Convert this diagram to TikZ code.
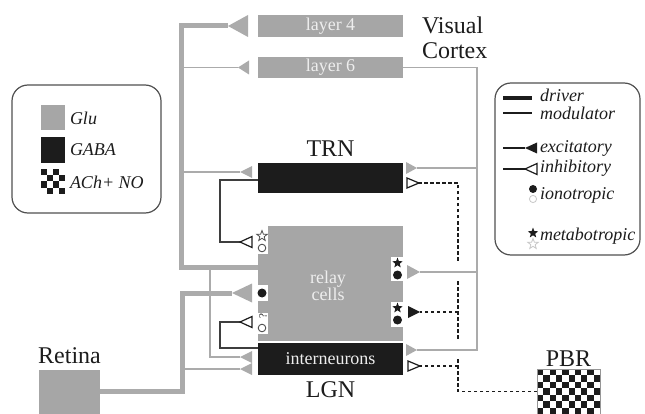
\documentclass[tikz,border=0pt]{standalone}
\usepackage{fontspec}
\setmainfont{Liberation Serif}
\usetikzlibrary{shapes.geometric,calc}
\definecolor{boxgray}{HTML}{A6A6A6}
\definecolor{linegray}{HTML}{ABABAB}
\definecolor{ink}{HTML}{1C1C1C}
\definecolor{paletext}{HTML}{EEEEEE}
\definecolor{framecol}{HTML}{505050}
\definecolor{faint}{HTML}{C8C8C8}
\begin{document}
\begin{tikzpicture}[x=1pt,y=-1pt,
  every node/.style={inner sep=0pt, outer sep=0pt},
  graybox/.style={fill=boxgray, minimum width=145pt, text=paletext, font=\fontsize{18}{18}\selectfont},
  blackbox/.style={fill=ink, minimum width=145pt, text=paletext, font=\fontsize{18}{18}\selectfont},
  title/.style={text=ink, anchor=base, font=\fontsize{24}{22}\selectfont},
  legtext/.style={anchor=west, text=ink, font=\fontsize{18}{18}\selectfont\itshape},
  drv/.style={draw=linegray, line width=5pt},
  mod/.style={draw=linegray, line width=1.4pt},
  inh/.style={draw=ink!85, line width=1.5pt},
  ach/.style={draw=ink, line width=1.4pt, dash pattern=on 3.5pt off 2.5pt},
  legframe/.style={draw=framecol, line width=1.2pt, rounded corners=16pt},
  exc/.style={fill=linegray},
  hollow/.style={draw=ink, fill=white, line width=1.2pt},
  solid/.style={fill=ink},
  pics/syn/.style n args={2}{code={\path[pic actions] (0,0) -- (#1,-#2) -- (#1,#2) -- cycle;}},
  fstar/.style={star, star points=5, star point ratio=2.4, minimum size=11pt, fill=ink},
  ostar/.style={star, star points=5, star point ratio=2.4, minimum size=11pt, draw=framecol, fill=white, line width=0.8pt},
]
\useasboundingbox (0,0) rectangle (645,414);

% ---------- boxes ----------
\node[graybox, minimum height=22pt] (l4) at (330.5,26) {layer 4};
\node[graybox, minimum height=21pt] (l6) at (330.5,67.5) {layer 6};
\node[blackbox, minimum height=30pt] (trn) at (330.5,178) {};
\node[graybox, minimum height=115pt] (relay) at (330.5,283.5) {};
\node[blackbox, minimum height=32pt] (inter) at (330.5,359) {interneurons};
\node[fill=boxgray, minimum width=61pt, minimum height=44pt] (retina) at (69.5,392) {};
\node[minimum width=63pt, minimum height=45pt] (pbr) at (568.5,391.5) {};
\foreach \i in {0,...,9} \foreach \j in {0,...,6} {
  \pgfmathtruncatemacro\parity{mod(\i+\j,2)}
  \ifnum\parity=0
    \fill[ink] ($(pbr.north west)+(6.3*\i,6.45*\j)$) rectangle ++(6.3,6.45);
  \fi
}
\draw[framecol!60, line width=0.6pt] (pbr.south west) rectangle (pbr.north east);

\node[text=paletext, align=center, font=\fontsize{18}{16}\selectfont] (rlab) at (328,286) {relay\\cells};

% ---------- titles ----------
\node[title] (trnlab) at (330.5,157) {TRN};
\node[title] (lgnlab) at (330.5,397) {LGN};
\node[title] (retlab) at (69.5,363) {Retina};
\node[title] (pbrlab) at (568.5,366) {PBR};
\node[title, anchor=base west] (vis) at (422,34) {Visual};
\node[title, anchor=base west] (ctx) at (422,58.5) {Cortex};

% ---------- cholinergic input from PBR ----------
\draw[ach] (pbr.west) -- ++(-79,0) |- ($(trn.east)+(16,5)$);
\draw[ach] ($(relay.north east)+(55,86)$) -- ($(relay.north east)+(17,86)$);
\draw[ach] ($(inter.east)+(55,7)$) -- ($(inter.east)+(17,7)$);
\fill[white] (450,261) rectangle (466,280);
\fill[white] (450,340) rectangle (466,358);
\pic[hollow, xscale=-1] at ($(trn.east)+(16,5)$) {syn={12}{5}};
\pic[solid, xscale=-1] at ($(relay.north east)+(17,86)$) {syn={12}{6}};
\pic[hollow, xscale=-1] at ($(inter.east)+(17,7)$) {syn={12}{5}};

% ---------- layer 6 feedback ----------
\draw[mod] (l6.east) -- ++(74,0) |- ($(inter.east)+(14,-9)$);
\draw[mod] ($(trn.east)+(74,-10)$) -- ($(trn.east)+(14,-10)$);
\draw[mod] ($(relay.north east)+(74,46)$) -- ($(relay.north east)+(17,46)$);
\pic[exc, xscale=-1] at ($(trn.east)+(14,-10)$) {syn={11}{6}};
\pic[exc, xscale=-1] at ($(relay.north east)+(17,46)$) {syn={13}{7}};
\pic[exc, xscale=-1] at ($(inter.east)+(14,-9)$) {syn={11}{6}};

% ---------- relay cell axons ----------
\draw[mod] ($(relay.north west)+(-48,41)$) |- ($(inter.west)+(-18,-2)$);
\draw[mod] ($(l4.west)+(-77,41.5)$) -- ($(l6.west)+(-20,0)$);
\draw[mod] ($(trn.west)+(-77,-6)$) -- ($(trn.west)+(-18,-6)$);
\draw[drv] ($(relay.north west)+(0,41)$) -| ($(l4.west)+(-77,0)$) -- ($(l4.west)+(-30,0)$);
\pic[exc] at ($(l4.west)+(-30,0)$) {syn={20}{11}};
\pic[exc] at ($(l6.west)+(-20,0)$) {syn={11}{7}};
\pic[exc] at ($(trn.west)+(-18,-6)$) {syn={12}{6}};
\pic[exc] at ($(inter.west)+(-18,-2)$) {syn={12}{6}};

% ---------- retinal input ----------
\draw[mod] ($(inter.west)+(-76,10)$) -- ($(inter.west)+(-18,10)$);
\draw[drv] ($(retina.east)+(0,-1)$) -| ($(relay.north west)+(-76,67)$) -- ($(relay.north west)+(-26,67)$);
\pic[exc] at ($(relay.north west)+(-26,67)$) {syn={20}{9.5}};
\pic[exc] at ($(inter.west)+(-18,10)$) {syn={12}{6}};

% ---------- GABAergic inputs to relay cells ----------
\draw[inh] ($(trn.west)+(0,2)$) -| ($(relay.north west)+(-38,16)$) -- ($(relay.north west)+(-18,16)$);
\pic[hollow] at ($(relay.north west)+(-18,16)$) {syn={12}{5.5}};
\draw[inh] ($(inter.west)+(0,-11)$) -| ($(relay.north west)+(-38,96)$) -- ($(relay.north west)+(-18,96)$);
\pic[hollow] at ($(relay.north west)+(-18,96)$) {syn={12}{5.5}};

% ---------- receptor sites on relay cells ----------
\fill[white] (258,226) rectangle (268,254);
\fill[white] (258,285) rectangle (268,301);
\fill[white] (258,313) rectangle (268,334);
\fill[white] (391,257) rectangle (403,281);
\fill[white] (391,302) rectangle (403,327);
\node[ostar] (s1) at (262,236) {};
\draw[framecol, line width=0.9pt, fill=white] (262,248) circle (3.8);
\fill[ink] (262,293) circle (4.5);
\node[text=ink, rotate=90, font=\fontsize{11}{11}\selectfont] (q1) at (263,316) {?};
\draw[framecol, line width=0.9pt, fill=white] (262,328) circle (3.8);
\node[fstar] (s2) at (397.5,263) {};
\fill[ink] (397.5,275) circle (4.5);
\node[fstar] (s3) at (397.5,308) {};
\fill[ink] (397.5,320) circle (4.5);

% ---------- transmitter legend ----------
\draw[legframe] (12,85) rectangle (161,213);
\fill[boxgray] (41,105) rectangle (65,130);
\fill[ink] (41,137) rectangle (65,163);
\foreach \i in {0,...,3} \foreach \j in {0,...,3} {
  \pgfmathtruncatemacro\parity{mod(\i+\j,2)}
  \ifnum\parity=0 \fill[ink] (41+6*\i,169+6.25*\j) rectangle ++(6,6.25); \fi
}
\node[legtext] (glu) at (70,118) {Glu};
\node[legtext] (gaba) at (70,150) {GABA};
\node[legtext] (ach) at (70,182) {ACh+ NO};

% ---------- synapse legend ----------
\draw[legframe] (495,83) rectangle (640,255);
\draw[ink, line width=4.5pt] (503,98) -- (532,98);
\draw[ink, line width=1.3pt] (503,113) -- (532,113);
\draw[ink, line width=1.4pt] (503,148) -- (525,148);
\pic[solid] at (525,148) {syn={12}{5.5}};
\draw[ink, line width=1.4pt] (503,169) -- (525,169);
\pic[hollow] at (525,169) {syn={12}{5.5}};
\fill[ink] (533,189) circle (4);
\draw[faint, line width=0.8pt, fill=white] (533,199) circle (3.6);
\node[fstar] (ls1) at (533,233) {};
\node[ostar, draw=faint] (ls2) at (533,244) {};
\node[legtext] (t1) at (540,95) {driver};
\node[legtext] (t2) at (540,113.5) {modulator};
\node[legtext] (t3) at (540,148) {excitatory};
\node[legtext] (t4) at (540,168) {inhibitory};
\node[legtext] (t5) at (540,195) {ionotropic};
\node[legtext] (t6) at (540,236) {metabotropic};
\end{tikzpicture}
\end{document}
